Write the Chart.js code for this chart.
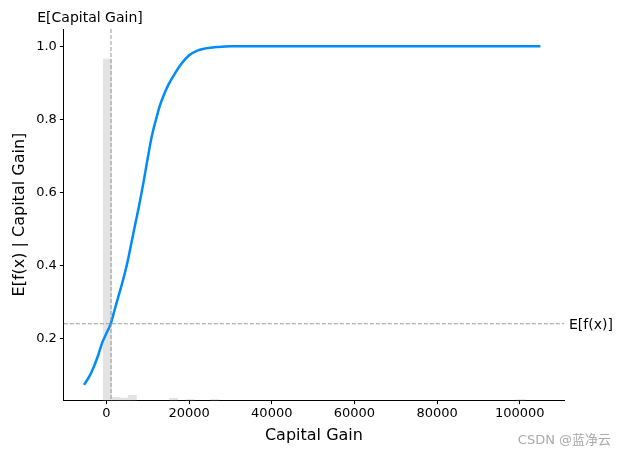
<!DOCTYPE html>
<html><head><meta charset="utf-8">
<script src="https://cdn.jsdelivr.net/npm/chart.js@4"></script>
<style>html,body{margin:0;padding:0;background:#fff}#w{width:626px;height:457px;position:relative}</style>
</head><body><div id="w"><canvas id="c"></canvas></div>
<script>
const curveX = [-5400,-4000,-3000,-2000,-1000,0,1000,2000,3000,4000,5000,6000,7000,8000,9000,10000,11000,12000,13000,14000,15000,16000,18000,20000,22000,24000,27000,30000,40000,60000,80000,105000];
const curveY = [0.074,0.10,0.125,0.155,0.19,0.215,0.24,0.28,0.32,0.36,0.405,0.46,0.515,0.57,0.63,0.695,0.755,0.80,0.84,0.87,0.895,0.915,0.95,0.975,0.988,0.994,0.998,1.0,1.0,1.0,1.0,1.0];
const histX = [250,2250,4250,6250,16250,20250,26250,100250];
const histTop = [0.965,0.040,0.038,0.045,0.037,0.034,0.034,0.034];
const histBase = 0.032;
const meanX = 1100;
const meanY = 0.241;
const xTicks = [0,20000,40000,60000,80000,100000];
const yTicks = [0.2,0.4,0.6,0.8,1.0];

const overlay = {
  id:'overlay',
  afterDatasetsDraw(ch){
    const {ctx, chartArea:a, scales:{x,y}} = ch;
    ctx.save();
    ctx.strokeStyle='#999'; ctx.lineWidth=1; ctx.setLineDash([4,2]);
    const px=x.getPixelForValue(meanX), py=y.getPixelForValue(meanY);
    ctx.beginPath(); ctx.moveTo(px,a.top); ctx.lineTo(px,a.bottom); ctx.stroke();
    ctx.beginPath(); ctx.moveTo(a.left,py); ctx.lineTo(a.right,py); ctx.stroke();
    ctx.setLineDash([]);
    ctx.fillStyle='#000'; ctx.font='14px "DejaVu Sans"';
    ctx.textAlign='center'; ctx.textBaseline='bottom';
    ctx.fillText('E[Capital Gain]', px-21, a.top-4);
    ctx.textAlign='left'; ctx.textBaseline='middle';
    ctx.fillText('E[f(x)]', a.right+5, py+2);
    ctx.fillStyle='#aaa'; ctx.font='13px "DejaVu Sans","Noto Sans CJK SC"';
    ctx.textAlign='right'; ctx.textBaseline='middle';
    ctx.fillText('CSDN @蓝净云', 611, 441);
    ctx.restore();
  }
};

new Chart(document.getElementById('c'), {
  data:{datasets:[
    {type:'bar', data: histX.map((v,i)=>({x:v,y:[histBase,histTop[i]]})), backgroundColor:'#e3e3e3', barPercentage:1, categoryPercentage:1, order:2},
    {type:'line', data: curveX.map((v,i)=>({x:v,y:curveY[i]})), borderColor:'#008bfb', borderWidth:2.5, pointRadius:0, cubicInterpolationMode:'monotone', order:1}
  ]},
  options:{
    responsive:true, maintainAspectRatio:false, animation:false,
    layout:{padding:{left:6,right:62,top:29,bottom:8}},
    plugins:{legend:{display:false},tooltip:{enabled:false}},
    scales:{
      x:{type:'linear', offset:false, min:-10300, max:110700,
        grid:{drawOnChartArea:false,drawTicks:true,tickLength:4,color:'#000',offset:false},
        border:{color:'#000',width:1},
        afterBuildTicks(s){s.ticks=xTicks.map(v=>({value:v}));},
        ticks:{color:'#000',font:{size:13,family:'DejaVu Sans'},maxRotation:0,autoSkip:false,padding:2,callback:v=>String(v)},
        title:{display:true,text:'Capital Gain',color:'#000',font:{size:16,family:'DejaVu Sans'},padding:{top:2}}},
      y:{type:'linear', min:0.032, max:1.047,
        grid:{drawOnChartArea:false,drawTicks:true,tickLength:4,color:'#000'},
        border:{color:'#000',width:1},
        afterBuildTicks(s){s.ticks=yTicks.map(v=>({value:v}));},
        ticks:{color:'#000',font:{size:13,family:'DejaVu Sans'},padding:3,callback:v=>v.toFixed(1)},
        title:{display:true,text:'E[f(x) | Capital Gain]',color:'#000',font:{size:16,family:'DejaVu Sans'}}}
    }
  },
  plugins:[overlay]
});
</script></body></html>
